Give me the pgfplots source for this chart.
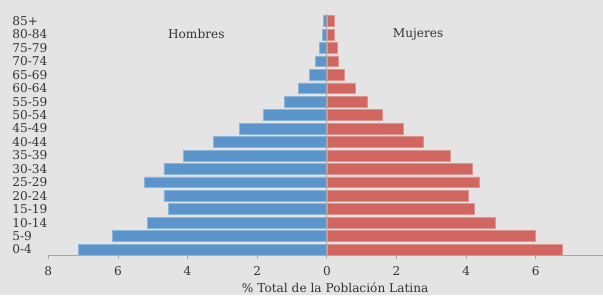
\documentclass[border=0pt]{standalone}
\usepackage{fontspec}
\setmainfont{DejaVu Serif}
\usepackage{pgfplots}
\pgfplotsset{compat=1.18}
\definecolor{bg}{HTML}{E4E4E4}
\definecolor{hblue}{HTML}{5B95CB}
\definecolor{mred}{HTML}{D0665F}
\definecolor{txt}{HTML}{333333}
\definecolor{axgray}{HTML}{A6A6A6}
\begin{document}
\begin{tikzpicture}[x=1bp,y=1bp]
\fill[bg] (0,0) rectangle (603,295);
\useasboundingbox (0,0) rectangle (603,295);
\begin{axis}[
  at={(48.3bp,39.3bp)}, anchor=south west,
  scale only axis,
  width=554.7bp, height=256.2bp,
  xmin=-8, xmax=7.93,
  ymin=-0.46, ymax=18.6,
  axis x line=bottom,
  axis y line=left,
  x axis line style={draw=axgray, line width=0.8pt, -},
  y axis line style={draw=none},
  ytick style={draw=none},
  xtick={-8,-6,-4,-2,0,2,4,6},
  xticklabels={8,6,4,2,0,2,4,6},
  xtick style={draw=axgray, line width=0.8pt},
  tick align=outside,
  major tick length=3bp,
  ytick={0,...,17},
  yticklabels={0-4,5-9,10-14,15-19,20-24,25-29,30-34,35-39,40-44,45-49,50-54,55-59,60-64,65-69,70-74,75-79,80-84,85+},
  tick label style={font=\fontsize{12.2}{13}\selectfont, text=txt},
  yticklabel style={anchor=west, xshift=-36.5bp},
  xticklabel style={yshift=-4.5bp},
  xlabel={\% Total de la Población Latina},
  xlabel style={at={(axis description cs:0.5,0)}, anchor=center, yshift=-32bp, xshift=9.5bp, font=\fontsize{12.2}{13}\selectfont, text=txt},
  xbar, bar width=10.8bp,
  clip=false,
]
\addplot[xbar, bar shift=0pt, fill=hblue, draw=hblue!70!white, line width=0.6pt] coordinates {
(-7.14,0) (-6.17,1) (-5.16,2) (-4.56,3) (-4.68,4) (-5.24,5) (-4.68,6) (-4.11,7) (-3.27,8)
(-2.51,9) (-1.82,10) (-1.22,11) (-0.81,12) (-0.50,13) (-0.33,14) (-0.21,15) (-0.13,16) (-0.09,17)
};
\addplot[xbar, bar shift=0pt, fill=mred, draw=mred!70!white, line width=0.6pt] coordinates {
(6.76,0) (5.99,1) (4.83,2) (4.22,3) (4.06,4) (4.38,5) (4.18,6) (3.53,7) (2.76,8)
(2.20,9) (1.60,10) (1.16,11) (0.83,12) (0.51,13) (0.34,14) (0.30,15) (0.20,16) (0.20,17)
};
\draw[axgray, line width=0.8pt] (axis cs:0,-0.46) -- (axis cs:0,17.55);
\node[font=\fontsize{12.2}{13}\selectfont, text=txt] at (axis cs:-3.75,16.04) {Hombres};
\node[font=\fontsize{12.2}{13}\selectfont, text=txt] at (axis cs:2.62,16.04) {Mujeres};
\end{axis}
\end{tikzpicture}
\end{document}
